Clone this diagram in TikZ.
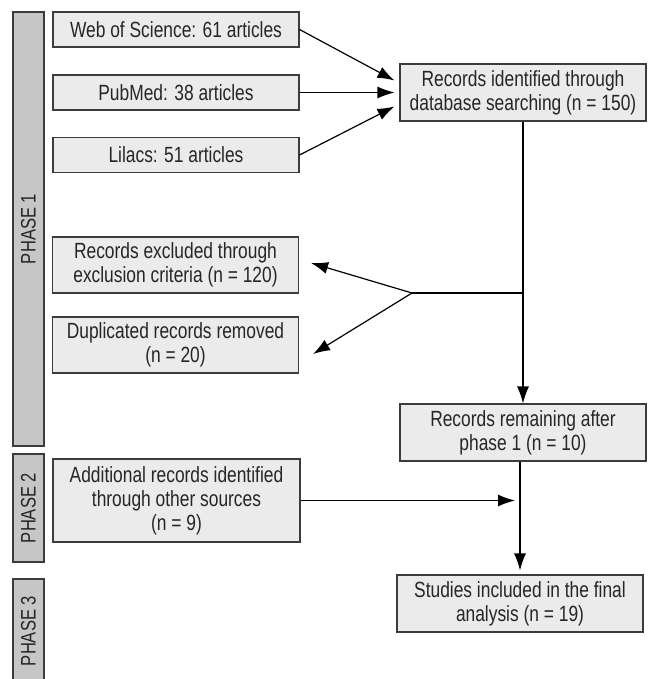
\documentclass[tikz,border=0pt]{standalone}
\usepackage{fontspec}
\setmainfont{Liberation Sans}[FakeStretch=0.79]
\usetikzlibrary{arrows.meta,positioning,calc}
\definecolor{prismaline}{HTML}{3C3C3C}
\definecolor{prismabox}{HTML}{EBEBEB}
\definecolor{prismabar}{HTML}{C6C6C6}
\definecolor{prismatext}{HTML}{262626}

\begin{document}
\begin{tikzpicture}[x=1pt,y=-1pt,
    recbox/.style  = {draw=prismaline,fill=prismabox,line width=1.1pt,
                      minimum width=246pt,inner sep=0pt,align=center,
                      text=prismatext,font=\fontsize{22}{24}\selectfont},
    phasebar/.style= {draw=prismaline,fill=prismabar,line width=1.1pt,
                      rotate=90,minimum height=31pt,inner sep=0pt,
                      text=prismatext,font=\fontsize{21}{22}\selectfont},
    fleche/.style  = {-{Latex[length=17pt,width=12pt]},line width=1.2pt},
    trait/.style   = {line width=1.2pt},
  ]
  \useasboundingbox (0,0) rectangle (651,679);

  % ── Bandes des phases ─────────────────────────────────────────────────────
  \node[phasebar,minimum width=434pt] (ph1) at (28.5,229) {PHASE 1};
  \node[phasebar,minimum width=108pt] (ph2) at (28.5,508) {PHASE 2};
  \node[phasebar,minimum width=104pt] (ph3) at (28.5,631) {PHASE 3};

  % ── Sources ───────────────────────────────────────────────────────────────
  \node[recbox,minimum height=35pt] (wos) at (176,29.5) {Web of Science: 61 articles};
  \node[recbox,minimum height=35pt] (pub) at (176,92.5) {PubMed: 38 articles};
  \node[recbox,minimum height=35pt] (lil) at (176,155)  {Lilacs: 51 articles};

  \node[recbox,minimum height=57pt] (ident) at (523,92.5)
       {Records identified through\\database searching (n = 150)};

  % ── Exclusions ────────────────────────────────────────────────────────────
  \node[recbox,minimum height=56pt] (excl) at (175.5,265)
       {Records excluded through\\exclusion criteria (n = 120)};
  \node[recbox,minimum height=56pt] (dup) at (175.5,345)
       {Duplicated records removed\\(n = 20)};

  % ── Phases 2 et 3 ─────────────────────────────────────────────────────────
  \node[recbox,minimum height=57pt] (remain) at (523,432.5)
       {Records remaining after\\phase 1 (n = 10)};
  \node[recbox,minimum width=247pt,minimum height=83pt] (addl) at (176.5,500.5)
       {Additional records identified\\through other sources\\(n = 9)};
  \node[recbox,minimum height=57pt] (final) at (520,603.5)
       {Studies included in the final\\analysis (n = 19)};

  % ── Flèches ───────────────────────────────────────────────────────────────
  \draw[fleche] (wos.east) -- ([xshift=-5pt,yshift=12pt]ident.west);
  \draw[fleche] (pub.east) -- ([xshift=-5pt]ident.west);
  \draw[fleche] (lil.east) -- ([xshift=-5pt,yshift=-14pt]ident.west);

  \coordinate (split) at (523,293);
  \coordinate (fork)  at (412,293);
  \draw[trait] (ident.south) -- (split) -- (fork);
  \draw[fleche] (fork) -- ([xshift=12pt,yshift=2pt]excl.east);
  \draw[fleche] (fork) -- ([xshift=14pt,yshift=-9pt]dup.east);
  \draw[fleche] (split) -- (remain.north);

  \draw[fleche,shorten >=4pt] (remain.south -| final.north) -- (final.north);
  \draw[fleche] (addl.east) -- ([xshift=-5pt]final.north |- addl.east);

\end{tikzpicture}
\end{document}
